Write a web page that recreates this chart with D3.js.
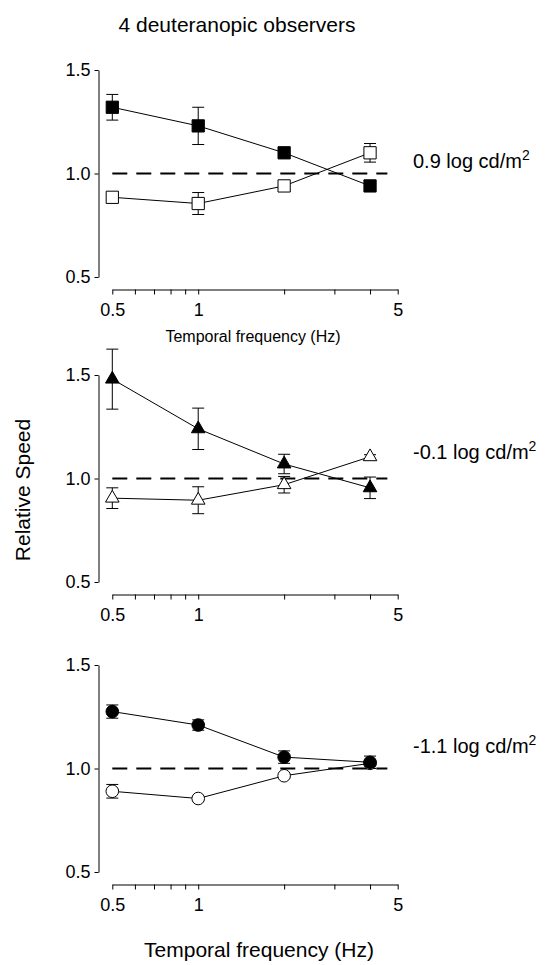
<!DOCTYPE html>
<html>
<head>
<meta charset="utf-8">
<script src="https://cdn.jsdelivr.net/npm/d3@7"></script>
<style>
  body { margin: 0; background: #fff; }
  svg { display: block; font-family: "Liberation Sans", Arial, sans-serif; }
  .axis path, .axis line { stroke: #000; stroke-width: 1; }
  .axis text { font-size: 18px; fill: #000; }
  .conn { fill: none; stroke: #000; stroke-width: 1; }
  .err { stroke: #000; stroke-width: 1; }
  .ref { stroke: #000; stroke-width: 2; stroke-dasharray: 15,9; }
</style>
</head>
<body>
<div id="main"></div>
<script>

var width = 560,
    height = 965;

// temporal frequencies (Hz)
var freqs = [0.5, 1, 2, 4];

var xTicks = [0.5, 0.6, 0.7, 0.8, 0.9, 1, 2, 3, 4, 5];
var xLabels = [0.5, 1, 5];
var yTicks = [0.5, 1.0, 1.5];

// 0.9 log cd/m2 - squares
var p1Filled = [1.32, 1.23, 1.10, 0.94];
var p1FilledErr = [0.062, 0.09, 0.015, 0.015];
var p1Open = [0.885, 0.855, 0.94, 1.10];
var p1OpenErr = [0.012, 0.053, 0.02, 0.045];

// -0.1 log cd/m2 - triangles
var p2Filled = [1.48, 1.24, 1.07, 0.955];
var p2FilledErr = [0.145, 0.10, 0.047, 0.052];
var p2Open = [0.905, 0.895, 0.97, 1.105];
var p2OpenErr = [0.05, 0.065, 0.04, 0.01];

// -1.1 log cd/m2 - circles
var p3Filled = [1.275, 1.21, 1.055, 1.03];
var p3FilledErr = [0.032, 0.025, 0.03, 0.03];
var p3Open = [0.89, 0.855, 0.965, 1.025];
var p3OpenErr = [0.033, 0.01, 0.01, 0.01];

var refValue = 1.0;
var refRange = [0.5, 4.6];

var panels = [
    { top: 70,  label: "0.9 log cd/m", labelY: 168, symbol: d3.symbolSquare, size: 150,
      filled: p1Filled, filledErr: p1FilledErr, open: p1Open, openErr: p1OpenErr },
    { top: 375, label: "-0.1 log cd/m", labelY: 459, symbol: d3.symbolTriangle, size: 80,
      filled: p2Filled, filledErr: p2FilledErr, open: p2Open, openErr: p2OpenErr },
    { top: 665, label: "-1.1 log cd/m", labelY: 753, symbol: d3.symbolCircle, size: 125,
      filled: p3Filled, filledErr: p3FilledErr, open: p3Open, openErr: p3OpenErr }
];

var PANEL_H = 207,
    XAXIS_OFF = 219,
    CAP = 6;

var svg = d3.select("div#main")
    .append("svg")
    .attr("width", width)
    .attr("height", height);

var x = d3.scaleLog()
    .domain([0.5, 5])
    .range([112.3, 397.7]);

svg.append("text")
    .attr("x", 237)
    .attr("y", 32)
    .attr("text-anchor", "middle")
    .style("font-size", "21px")
    .text("4 deuteranopic observers");

panels.forEach(function(p) { drawPanel(p); });

svg.append("text")
    .attr("x", 253)
    .attr("y", 342)
    .attr("text-anchor", "middle")
    .style("font-size", "16px")
    .text("Temporal frequency (Hz)");

svg.append("text")
    .attr("x", 259)
    .attr("y", 957)
    .attr("text-anchor", "middle")
    .style("font-size", "21px")
    .text("Temporal frequency (Hz)");

svg.append("text")
    .attr("transform", "translate(30,490) rotate(-90)")
    .attr("text-anchor", "middle")
    .style("font-size", "21px")
    .text("Relative Speed");

function drawPanel(p) {
    var y = d3.scaleLinear()
        .domain([0.5, 1.5])
        .range([p.top + PANEL_H, p.top]);

    var g = svg.append("g");

    g.append("g")
        .attr("class", "axis")
        .attr("transform", "translate(98.5,0)")
        .call(d3.axisLeft(y)
              .tickValues(yTicks)
              .tickSize(4)
              .tickSizeOuter(0)
              .tickPadding(4)
              .tickFormat(d3.format(".1f")));

    g.append("g")
        .attr("class", "axis")
        .attr("transform", `translate(0,${p.top + XAXIS_OFF + 0.5})`)
        .call(d3.axisBottom(x)
              .tickValues(xTicks)
              .tickSize(5)
              .tickSizeOuter(0)
              .tickPadding(9)
              .tickFormat(function(d) { return xLabels.indexOf(d) >= 0 ? d : ""; }));

    g.append("line")
        .attr("class", "ref")
        .attr("x1", x(refRange[0]))
        .attr("x2", x(refRange[1]))
        .attr("y1", y(refValue))
        .attr("y2", y(refValue));

    var line = d3.line()
        .x(function(d) { return x(d.f); })
        .y(function(d) { return y(d.v); });

    var series = [
        { vals: p.open, errs: p.openErr, fill: "#fff" },
        { vals: p.filled, errs: p.filledErr, fill: "#000" }
    ];

    series.forEach(function(s) {
        var pts = freqs.map(function(f, i) { return { f: f, v: s.vals[i], e: s.errs[i] }; });

        g.append("path")
            .datum(pts)
            .attr("class", "conn")
            .attr("d", line);

        var eb = g.append("g").selectAll("g")
            .data(pts)
            .enter().append("g");

        eb.append("line")
            .attr("class", "err")
            .attr("x1", function(d) { return x(d.f); })
            .attr("x2", function(d) { return x(d.f); })
            .attr("y1", function(d) { return y(d.v + d.e); })
            .attr("y2", function(d) { return y(d.v - d.e); });

        [1, -1].forEach(function(sign) {
            eb.append("line")
                .attr("class", "err")
                .attr("x1", function(d) { return x(d.f) - CAP; })
                .attr("x2", function(d) { return x(d.f) + CAP; })
                .attr("y1", function(d) { return y(d.v + sign * d.e); })
                .attr("y2", function(d) { return y(d.v + sign * d.e); });
        });
    });

    series.forEach(function(s) {
        g.append("g").selectAll("path")
            .data(freqs.map(function(f, i) { return { f: f, v: s.vals[i] }; }))
            .enter().append("path")
            .attr("d", d3.symbol().type(p.symbol).size(p.size))
            .attr("transform", function(d) { return `translate(${x(d.f)},${y(d.v)})`; })
            .attr("fill", s.fill)
            .attr("stroke", "#000")
            .attr("stroke-width", 1);
    });

    var t = svg.append("text")
        .attr("x", 413)
        .attr("y", p.labelY)
        .style("font-size", "20px")
        .text(p.label);
    t.append("tspan")
        .attr("dy", -8)
        .style("font-size", "14px")
        .text("2");
}

</script>
</body>
</html>
